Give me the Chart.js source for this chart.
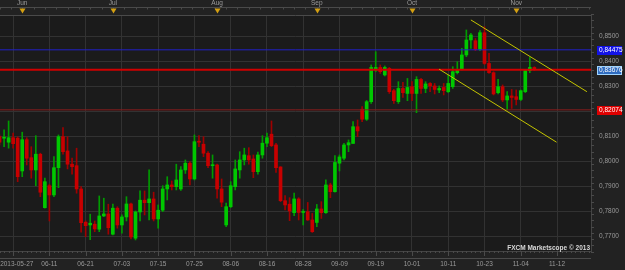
<!DOCTYPE html>
<html lang="en">
<head>
<meta charset="UTF-8">
<title>EUR/GBP Daily</title>
<script src="https://cdn.jsdelivr.net/npm/chart.js"></script>
<style>
  html, body { margin: 0; padding: 0; background: #222222; }
  #wrap { width: 625px; height: 270px; }
</style>
</head>
<body>
<div id="wrap"><canvas id="chart" width="625" height="270"></canvas></div>
<script>
// daily candles (first one is 2013-05-22)
var opens = [
  0.8100, 0.8094, 0.8078, 0.8096, 0.8094, 0.7963, 0.8088, 0.8016, 0.7967, 0.8030,
  0.7816, 0.7904, 0.7867, 0.7976, 0.8100, 0.8043, 0.7990, 0.7984, 0.7891, 0.7758,
  0.7747, 0.7750, 0.7730, 0.7783, 0.7791, 0.7710, 0.7814, 0.7747, 0.7779, 0.7831,
  0.7694, 0.7799, 0.7846, 0.7836, 0.7851, 0.7771, 0.7806, 0.7891, 0.7907, 0.7900,
  0.7891, 0.7967, 0.7994, 0.7931, 0.8080, 0.8070, 0.8034, 0.7984, 0.7987, 0.7891,
  0.7747, 0.7820, 0.7900, 0.7967, 0.8007, 0.8024, 0.8011, 0.7960, 0.8027, 0.8074,
  0.8110, 0.8067, 0.7979, 0.7844, 0.7830, 0.7796, 0.7851, 0.7797, 0.7800, 0.7767,
  0.7757, 0.7811, 0.7796, 0.7907, 0.7880, 0.7994, 0.8014, 0.8067, 0.8073, 0.8140,
  0.8210, 0.8170, 0.8240, 0.8367, 0.8377, 0.8347, 0.8373, 0.8284, 0.8240, 0.8293,
  0.8273, 0.8300, 0.8273, 0.8329, 0.8293, 0.8313, 0.8303, 0.8287, 0.8297, 0.8280,
  0.8300, 0.8356, 0.8369, 0.8427, 0.8487, 0.8484, 0.8449, 0.8516, 0.8393, 0.8356,
  0.8276, 0.8300, 0.8247, 0.8263, 0.8260, 0.8249, 0.8280, 0.8364, 0.8377
];
var highs = [
  0.8107, 0.8127, 0.8163, 0.8114, 0.8100, 0.8118, 0.8096, 0.8060, 0.8104, 0.8034,
  0.7934, 0.7910, 0.8020, 0.8107, 0.8136, 0.8100, 0.8014, 0.8054, 0.7900, 0.7763,
  0.7790, 0.7763, 0.7863, 0.7854, 0.7830, 0.7830, 0.7820, 0.7787, 0.7860, 0.7834,
  0.7803, 0.7883, 0.7883, 0.7967, 0.7878, 0.7827, 0.7904, 0.7940, 0.7923, 0.7990,
  0.7980, 0.8007, 0.8000, 0.8107, 0.8104, 0.8100, 0.8040, 0.8027, 0.7990, 0.7931,
  0.7834, 0.7920, 0.8007, 0.8040, 0.8054, 0.8056, 0.8027, 0.8038, 0.8104, 0.8114,
  0.8163, 0.8073, 0.7980, 0.7864, 0.7856, 0.7874, 0.7856, 0.7809, 0.7837, 0.7793,
  0.7829, 0.7840, 0.7927, 0.7914, 0.8024, 0.8027, 0.8073, 0.8087, 0.8160, 0.8167,
  0.8220, 0.8245, 0.8387, 0.8440, 0.8387, 0.8383, 0.8377, 0.8289, 0.8320, 0.8317,
  0.8333, 0.8320, 0.8340, 0.8333, 0.8320, 0.8316, 0.8313, 0.8303, 0.8313, 0.8347,
  0.8380, 0.8400, 0.8453, 0.8527, 0.8513, 0.8493, 0.8524, 0.8540, 0.8433, 0.8360,
  0.8329, 0.8307, 0.8280, 0.8289, 0.8287, 0.8287, 0.8369, 0.8417, 0.8380
];
var lows = [
  0.8067, 0.8060, 0.8054, 0.8054, 0.7920, 0.7940, 0.7987, 0.7934, 0.7904, 0.7860,
  0.7814, 0.7763, 0.7860, 0.7896, 0.8030, 0.7971, 0.7950, 0.7874, 0.7718, 0.7700,
  0.7688, 0.7720, 0.7720, 0.7780, 0.7710, 0.7707, 0.7734, 0.7714, 0.7763, 0.7691,
  0.7687, 0.7763, 0.7787, 0.7767, 0.7763, 0.7734, 0.7800, 0.7847, 0.7887, 0.7887,
  0.7885, 0.7953, 0.7907, 0.7927, 0.8060, 0.8020, 0.7976, 0.7934, 0.7854, 0.7820,
  0.7740, 0.7816, 0.7887, 0.7934, 0.7987, 0.7990, 0.7936, 0.7950, 0.8014, 0.8060,
  0.8060, 0.7957, 0.7840, 0.7807, 0.7764, 0.7784, 0.7767, 0.7747, 0.7765, 0.7717,
  0.7740, 0.7773, 0.7793, 0.7856, 0.7878, 0.7963, 0.8007, 0.8040, 0.8073, 0.8100,
  0.8160, 0.8165, 0.8233, 0.8360, 0.8353, 0.8343, 0.8273, 0.8233, 0.8233, 0.8257,
  0.8244, 0.8244, 0.8196, 0.8273, 0.8276, 0.8280, 0.8271, 0.8276, 0.8267, 0.8276,
  0.8293, 0.8351, 0.8367, 0.8420, 0.8453, 0.8444, 0.8444, 0.8389, 0.8353, 0.8267,
  0.8271, 0.8240, 0.8207, 0.8213, 0.8227, 0.8244, 0.8276, 0.8356, 0.8365
];
var closes = [
  0.8078, 0.8097, 0.8096, 0.8072, 0.7940, 0.8088, 0.8014, 0.7967, 0.8030, 0.7878,
  0.7920, 0.7867, 0.7976, 0.8100, 0.8040, 0.7990, 0.7980, 0.7891, 0.7756, 0.7744,
  0.7754, 0.7731, 0.7783, 0.7791, 0.7736, 0.7814, 0.7747, 0.7779, 0.7831, 0.7699,
  0.7799, 0.7846, 0.7836, 0.7851, 0.7771, 0.7806, 0.7891, 0.7907, 0.7900, 0.7927,
  0.7967, 0.7994, 0.7931, 0.8080, 0.8078, 0.8034, 0.7984, 0.7987, 0.7891, 0.7838,
  0.7820, 0.7904, 0.7971, 0.8007, 0.8027, 0.8007, 0.7960, 0.8027, 0.8074, 0.8096,
  0.8064, 0.7976, 0.7844, 0.7827, 0.7803, 0.7851, 0.7797, 0.7800, 0.7767, 0.7720,
  0.7811, 0.7796, 0.7907, 0.7880, 0.7997, 0.8019, 0.8067, 0.8076, 0.8140, 0.8123,
  0.8170, 0.8240, 0.8377, 0.8377, 0.8360, 0.8377, 0.8280, 0.8244, 0.8293, 0.8276,
  0.8297, 0.8273, 0.8329, 0.8293, 0.8311, 0.8303, 0.8289, 0.8293, 0.8284, 0.8313,
  0.8360, 0.8369, 0.8427, 0.8487, 0.8507, 0.8449, 0.8516, 0.8393, 0.8356, 0.8271,
  0.8300, 0.8247, 0.8263, 0.8257, 0.8249, 0.8284, 0.8364, 0.8377, 0.8368
];

// axis labels
var tickAt = [3, 11, 19, 27, 35, 43, 51, 59, 67, 75, 83, 91, 99, 107, 115, 123];
var tickLabels = ['2013-05-27', '06-11', '06-21', '07-03', '07-15', '07-25', '08-06', '08-16',
                  '08-28', '09-09', '09-19', '10-01', '10-11', '10-23', '11-04', '11-12'];
var monthAt = [5, 25, 48, 70, 91, 114];
var monthNames = ['Jun', 'Jul', 'Aug', 'Sep', 'Oct', 'Nov'];
var priceTicks = [0.77, 0.78, 0.79, 0.80, 0.81, 0.82, 0.83, 0.84, 0.85];

// price levels and channel lines drawn on the chart
var levels = [0.84475, 0.83676, 0.82074];
var upperTrend = [[104.0, 0.8567], [129.6, 0.8280]];
var lowerTrend = [[97.0, 0.8370], [122.9, 0.8078]];

var GREEN = '#00c800', RED = '#c80000';
var levelStyle = [
    { line: '#2020c8', width: 1, box: '#1212e6', edge: '#1212e6' },
    { line: '#d00000', width: 2, box: '#2f6cc0', edge: '#9fd4ff' },
    { line: '#8a1c1c', width: 1, box: '#e00000', edge: '#e00000' }
];
var FONT = 'Liberation Sans';

var isUp = opens.map(function (o, i) { return closes[i] >= o; });

var datasets = [
    {
        label: 'wick',
        data: lows.map(function (l, i) { return { x: i, y: [l, highs[i]] }; }),
        backgroundColor: isUp.map(function (u) { return u ? '#009c00' : '#a00000'; }),
        barThickness: 1,
        grouped: false,
        order: 3
    },
    {
        label: 'body',
        data: opens.map(function (o, i) { return { x: i, y: [o, closes[i]] }; }),
        backgroundColor: isUp.map(function (u) { return u ? GREEN : RED; }),
        barThickness: 3,
        minBarLength: 1,
        grouped: false,
        order: 2
    }
];

levels.forEach(function (lv, i) {
    datasets.push({
        type: 'line',
        label: 'level' + i,
        data: [{ x: 0, y: lv }, { x: 131, y: lv }],
        borderColor: levelStyle[i].line,
        borderWidth: levelStyle[i].width,
        pointRadius: 0,
        order: 1
    });
});

[upperTrend, lowerTrend].forEach(function (t, i) {
    datasets.push({
        type: 'line',
        label: 'trend' + i,
        data: t.map(function (p) { return { x: p[0], y: p[1] }; }),
        borderColor: '#c4c400',
        borderWidth: 1,
        pointRadius: 0,
        order: 0
    });
});

function fmtPrice(v, d) { return v.toFixed(d).replace('.', ','); }

// backgrounds, top band with month markers, price boxes, watermark
var decorations = {
    id: 'decorations',
    beforeDraw: function (chart) {
        var c = chart.ctx, a = chart.chartArea;
        c.save();
        c.fillStyle = '#222222';
        c.fillRect(0, 0, chart.width, chart.height);
        c.fillStyle = '#1b1b1b';
        c.fillRect(a.left, a.top, a.right - a.left, a.bottom - a.top);
        c.restore();
    },
    afterDraw: function (chart) {
        var c = chart.ctx, a = chart.chartArea;
        var xs = chart.scales.x, ys = chart.scales.y;
        c.save();

        // top band line + small ticks
        var lineY = a.top - 7.5;
        c.strokeStyle = '#4a4a4a';
        c.lineWidth = 1;
        c.beginPath();
        c.moveTo(a.left, lineY);
        c.lineTo(a.right, lineY);
        c.moveTo(a.left, a.top + 0.5);
        c.lineTo(a.right, a.top + 0.5);
        for (var t = 0; t <= 131; t += 2.5) {
            var px = Math.round(xs.getPixelForValue(t)) + 0.5;
            if (px < a.left || px > a.right) continue;
            c.moveTo(px, lineY);
            c.lineTo(px, lineY + 2);
        }
        c.stroke();

        // bottom band small ticks
        c.beginPath();
        for (var b = 0; b <= 131; b++) {
            var bx = Math.round(xs.getPixelForValue(b)) + 0.5;
            if (bx < a.left || bx > a.right) continue;
            var len = tickAt.indexOf(b) >= 0 ? 5 : 2;
            c.moveTo(bx, a.bottom);
            c.lineTo(bx, a.bottom + len);
        }
        c.moveTo(a.left, a.bottom + 7.5);
        c.lineTo(a.right, a.bottom + 7.5);
        c.stroke();

        // right axis small ticks
        c.beginPath();
        for (var p = 0.764; p <= 0.859; p += 0.0025) {
            var py = Math.round(ys.getPixelForValue(p)) + 0.5;
            c.moveTo(a.right, py);
            c.lineTo(a.right + 3, py);
        }
        c.stroke();

        // month markers
        c.fillStyle = '#d4a012';
        monthAt.forEach(function (m) {
            var mx = Math.round(xs.getPixelForValue(m)) + 0.5;
            c.beginPath();
            c.moveTo(mx - 3, lineY + 1);
            c.lineTo(mx + 3, lineY + 1);
            c.lineTo(mx, lineY + 6);
            c.closePath();
            c.fill();
        });

        // price boxes on the right axis
        c.font = '6.5px "' + FONT + '"';
        c.textBaseline = 'middle';
        c.textAlign = 'left';
        levels.forEach(function (lv, i) {
            var y = Math.round(ys.getPixelForValue(lv));
            var bx = a.right + 6;
            c.fillStyle = levelStyle[i].box;
            c.fillRect(bx, y - 4, 25, 9);
            c.strokeStyle = levelStyle[i].edge;
            c.strokeRect(bx + 0.5, y - 3.5, 24, 8);
            c.fillStyle = '#ffffff';
            c.fillText(fmtPrice(lv, 5), bx + 2, y + 0.5);
        });

        // watermark
        c.font = 'bold 6.5px "' + FONT + '"';
        c.fillStyle = '#d8d8d8';
        c.textAlign = 'right';
        c.textBaseline = 'alphabetic';
        c.fillText('FXCM Marketscope \u00a9 2013', a.right - 1, a.bottom - 1);
        c.restore();
    }
};

new Chart(document.getElementById('chart'), {
    type: 'bar',
    data: { datasets: datasets },
    options: {
        responsive: false,
        animation: false,
        devicePixelRatio: 1,
        layout: { padding: 0 },
        plugins: { legend: { display: false }, tooltip: { enabled: false } },
        datasets: { bar: { borderWidth: 0 } },
        scales: {
            x: {
                type: 'linear',
                position: 'bottom',
                offset: false,
                min: 0.1,
                max: 130.5,
                afterBuildTicks: function (s) {
                    s.ticks = tickAt.map(function (v) { return { value: v }; });
                },
                afterFit: function (s) { s.height = 19; s.paddingLeft = 0; s.paddingRight = 0; },
                ticks: {
                    autoSkip: false,
                    maxRotation: 0,
                    padding: 9,
                    color: '#9a9a9a',
                    font: { family: FONT, size: 6.5 },
                    callback: function (v) {
                        var i = tickAt.indexOf(v);
                        // first label sits against the left edge, keep it whole
                        return i === 0 ? '\u2007\u2007' + tickLabels[i] : tickLabels[i];
                    }
                },
                grid: { color: '#323232', lineWidth: 1, drawTicks: false, offset: false },
                border: { display: true, color: '#444444' }
            },
            xTop: {
                type: 'linear',
                position: 'top',
                offset: false,
                min: 0.1,
                max: 130.5,
                afterBuildTicks: function (s) {
                    s.ticks = monthAt.map(function (v) { return { value: v }; });
                },
                afterFit: function (s) { s.height = 15; s.paddingLeft = 0; s.paddingRight = 0; },
                ticks: {
                    autoSkip: false,
                    maxRotation: 0,
                    padding: 8,
                    color: '#9a9a9a',
                    font: { family: FONT, size: 6.5 },
                    callback: function (v) { return monthNames[monthAt.indexOf(v)]; }
                },
                grid: { display: false, drawTicks: false, offset: false },
                border: { display: false }
            },
            y: {
                position: 'right',
                min: 0.76428,
                max: 0.85868,
                afterBuildTicks: function (s) {
                    s.ticks = priceTicks.map(function (v) { return { value: v }; });
                },
                afterFit: function (s) { s.width = 34; s.paddingTop = 0; s.paddingBottom = 0; },
                ticks: {
                    padding: 8,
                    color: '#9a9a9a',
                    font: { family: FONT, size: 6.5 },
                    callback: function (v) { return fmtPrice(v, 4); }
                },
                grid: { color: '#323232', lineWidth: 1, drawTicks: false },
                border: { display: true, color: '#444444' }
            }
        }
    },
    plugins: [decorations]
});
</script>
</body>
</html>
